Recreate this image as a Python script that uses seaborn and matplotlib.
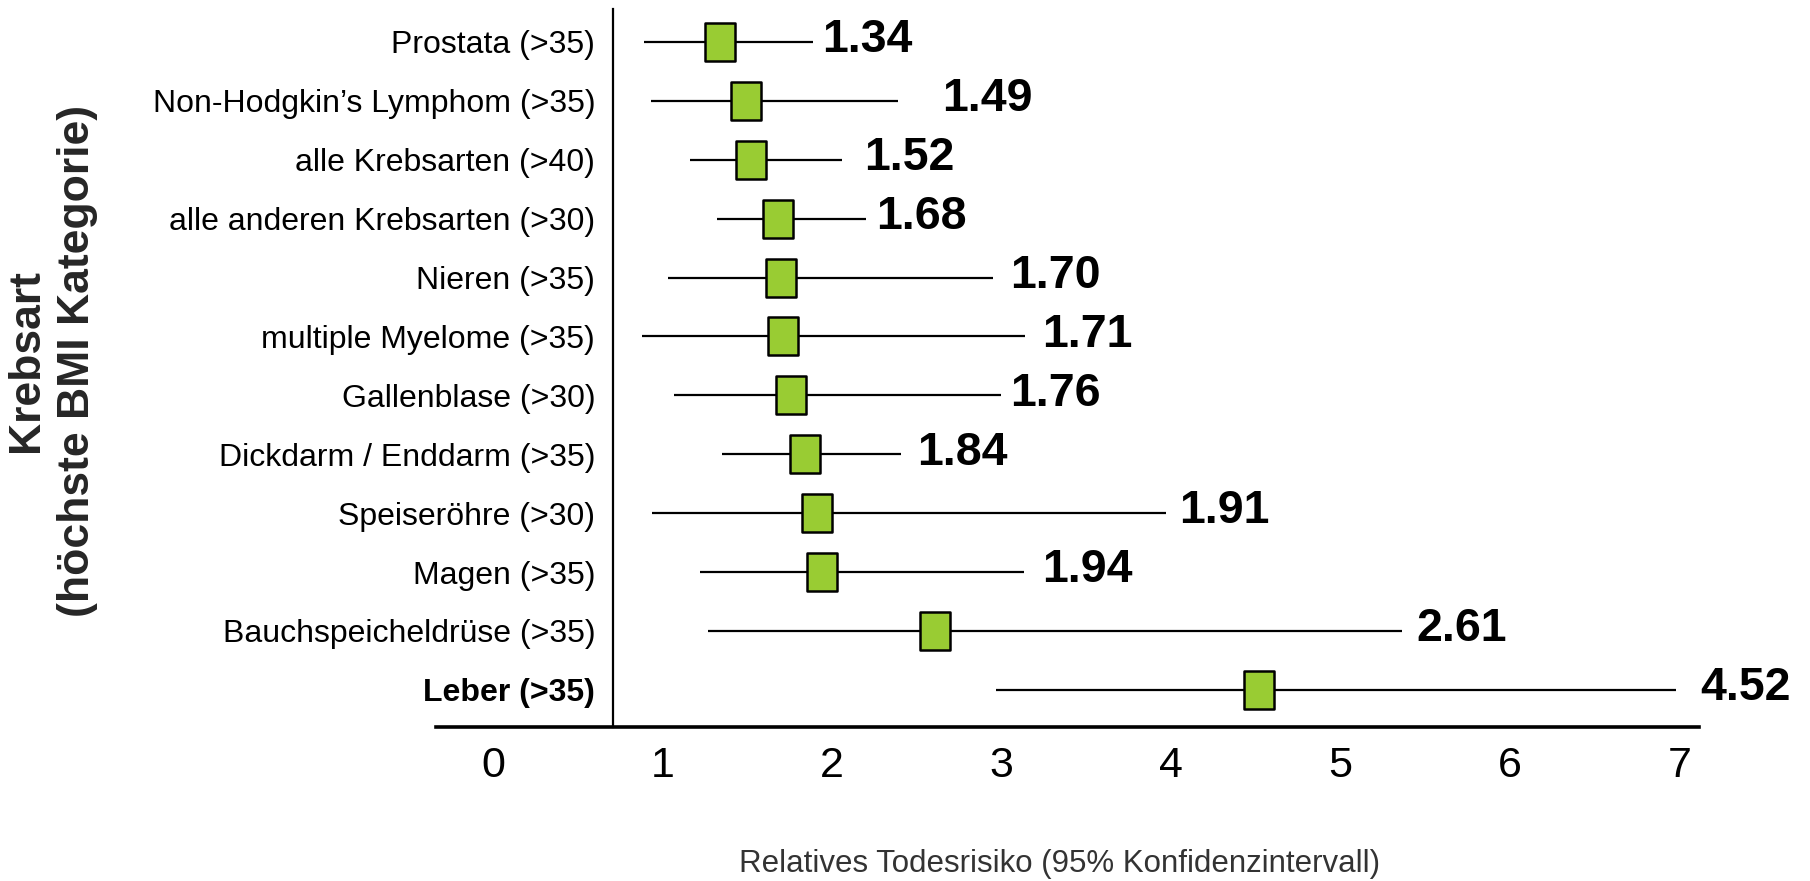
import numpy as np
import matplotlib
matplotlib.use("Agg")
import matplotlib.pyplot as plt
import seaborn as sns
import pandas as pd
from matplotlib.path import Path

# ---------------- data ----------------
categories = [
    "Prostata (>35)",
    "Non-Hodgkin\u2019s Lymphom (>35)",
    "alle Krebsarten (>40)",
    "alle anderen Krebsarten (>30)",
    "Nieren (>35)",
    "multiple Myelome (>35)",
    "Gallenblase (>30)",
    "Dickdarm / Enddarm (>35)",
    "Speiser\u00f6hre (>30)",
    "Magen (>35)",
    "Bauchspeicheldr\u00fcse (>35)",
    "Leber (>35)",
]
relative_risk = [1.34, 1.49, 1.52, 1.68, 1.70, 1.71, 1.76, 1.84, 1.91, 1.94, 2.61, 4.52]
ci_lower = [0.89, 0.93, 1.16, 1.32, 1.03, 0.88, 1.07, 1.35, 0.94, 1.22, 1.27, 2.97]
ci_upper = [1.89, 2.39, 2.06, 2.20, 2.95, 3.14, 3.00, 2.41, 3.97, 3.13, 5.36, 6.98]
x_ticks = [0, 1, 2, 3, 4, 5, 6, 7]
x_label = "Relatives Todesrisiko (95% Konfidenzintervall)"
y_label = "Krebsart\n(h\u00f6chste BMI Kategorie)"

# ---------------- style ----------------
label_gap = [0.05, 0.26, 0.13, 0.06, 0.10, 0.10, 0.05, 0.09, 0.08, 0.11, 0.09, 0.14]
green = "#99CC33"

sns.set_theme(style="white")
plt.rcParams["font.family"] = ["Liberation Sans", "DejaVu Sans"]

df = pd.DataFrame({
    "cat": categories,
    "rr": relative_risk,
    "lo": ci_lower,
    "hi": ci_upper,
})
df["pos"] = np.arange(len(df))

W, H = 1810, 881
fig = plt.figure(figsize=(W / 100, H / 100), dpi=100)
ax = fig.add_axes([436 / W, 1 - 727 / H, (1699 - 436) / W, (727 - 9) / H])

# confidence intervals
ax.hlines(df["pos"], df["lo"], df["hi"], color="black", linewidth=1.6, zorder=1)

# point estimates (rectangular markers)
rect = Path([(-0.38, -0.5), (0.38, -0.5), (0.38, 0.5), (-0.38, 0.5), (-0.38, -0.5)],
            [Path.MOVETO, Path.LINETO, Path.LINETO, Path.LINETO, Path.CLOSEPOLY])
sns.scatterplot(data=df, x="rr", y="pos", marker=rect, s=760, color=green,
                edgecolor="black", linewidth=1.8, zorder=3, ax=ax, legend=False)

# value labels
for i, row in df.iterrows():
    ax.text(row["hi"] + label_gap[i], row["pos"] - 0.03, f"{row['rr']:.2f}",
            fontsize=33.5, fontweight="bold", ha="left", va="center", color="black")

# spines first (set_position resets tick properties)
for s in ["top", "right"]:
    ax.spines[s].set_visible(False)
ax.spines["left"].set_position(("data", 0.71))
ax.spines["left"].set_color("black")
ax.spines["left"].set_linewidth(1.6)
ax.spines["bottom"].set_color("black")
ax.spines["bottom"].set_linewidth(2.6)

ax.set_xlim(-0.336, 7.115)
ax.set_ylim(11.63, -0.56)
ax.set_xticks(x_ticks)
ax.set_xticklabels([str(t) for t in x_ticks], fontsize=31)
ax.set_yticks(df["pos"])
ax.set_yticklabels(categories, fontsize=23)
ax.get_yticklabels()[-1].set_fontweight("bold")
ax.tick_params(axis="x", length=0, pad=14, colors="black")
ax.tick_params(axis="y", length=0, pad=13, colors="black")
ax.set_xlabel("")
ax.set_ylabel("")

fig.text(1060 / W, 1 - 864 / H, x_label, fontsize=22.5, color="#333333",
         ha="center", va="center")
fig.text(52 / W, 1 - 361 / H, y_label, fontsize=32, fontweight="bold",
         rotation=90, ha="center", va="center", multialignment="center",
         linespacing=1.32)

fig.savefig("out.png", dpi=100)
